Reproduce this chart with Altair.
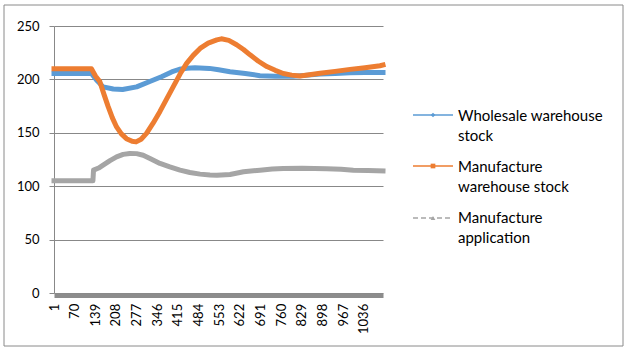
import altair as alt
import pandas as pd

# ---- data ----
x_ticks = [1, 70, 139, 208, 277, 346, 415, 484, 553, 622, 691, 760, 829, 898, 967, 1036]
y_ticks = [0, 50, 100, 150, 200, 250]

series_names = ["Wholesale warehouse stock", "Manufacture warehouse stock", "Manufacture application"]
legend_labels = ["Wholesale warehouse\nstock", "Manufacture\nwarehouse stock", "Manufacture\napplication"]
colors = ["#5B9BD5", "#ED7D31", "#A5A5A5"]
shapes = ["diamond", "square", "triangle-up"]

wh_t = [1, 126, 143, 165, 199, 230, 277, 321, 360, 394, 420, 445, 472, 520, 551, 589, 640, 689, 740, 800, 850, 890, 940, 990, 1040, 1100]
wh_v = [205.5, 205.5, 199.5, 193, 191, 190.5, 193, 198, 202.5, 207, 209.5, 210.5, 211, 210.3, 209, 207.2, 205.5, 203.5, 203, 203, 204, 205, 205.5, 206.3, 206.5, 206.5]

mw_t = [1, 126, 140, 154, 168, 182, 196, 210, 226, 243, 262, 275, 292, 310, 332, 355, 377, 399, 422, 444, 466, 489, 516, 545, 560, 585, 611, 634, 656, 684, 712, 740, 767, 795, 823, 860, 890, 940, 990, 1040, 1090, 1100]
mw_v = [210, 210, 203, 198, 186, 174.5, 164, 155.5, 149, 144.5, 142, 141.5, 144, 149.5, 159, 170, 181.5, 193, 205, 215, 222.5, 229, 234, 237, 238, 236.5, 232.5, 228, 223, 217, 212, 208.5, 205.5, 204, 203.2, 204.5, 205.7, 207.5, 209.4, 211, 212.8, 213.5]

ma_t = [1, 131, 133, 150, 165, 188, 210, 232, 254, 277, 299, 325, 355, 388, 422, 455, 489, 522, 545, 589, 634, 689, 730, 767, 830, 912, 960, 1001, 1050, 1100]
ma_v = [105, 105, 115, 117, 119.7, 124, 127.5, 129.8, 130.7, 130.5, 129, 125.5, 121.3, 118, 115, 112.8, 111.3, 110.5, 110.3, 111, 113.5, 115, 116, 116.6, 116.8, 116.3, 115.8, 115, 114.8, 114.4]

series_t = [wh_t, mw_t, ma_t]
series_v = [wh_v, mw_v, ma_v]

W, H = 329, 267
FONT = "Lato"
GRID = "#888888"

xscale = alt.Scale(domain=[1, 1100], nice=False, zero=False)
yscale = alt.Scale(domain=[0, 250], nice=False)

x_axis = alt.Axis(values=x_ticks, format="d", labelAngle=270, ticks=False, grid=False,
                  domainColor="#8c8c8c", domainWidth=4.6, offset=2.3,
                  labelPadding=8, labelFont=FONT, labelFontSize=13,
                  labelColor="#000000", title=None, labelOverlap=False)
y_axis = alt.Axis(values=y_ticks, format="d", grid=True, gridColor=GRID, gridWidth=1,
                  domainColor=GRID, tickColor=GRID, tickSize=5,
                  labelPadding=10, labelFont=FONT, labelFontSize=13,
                  labelColor="#000000", title=None)

layers = []
for i in range(3):
    df = pd.DataFrame({"t": series_t[i], "v": series_v[i], "series": series_names[i]})
    layers.append(
        alt.Chart(df).mark_line(strokeWidth=5, strokeCap="square", strokeJoin="round",
                                color=colors[i]).encode(
            x=alt.X("t:Q", scale=xscale, axis=x_axis),
            y=alt.Y("v:Q", scale=yscale, axis=y_axis),
        )
    )

one = pd.DataFrame({"a": [0]})

# outer border
border = alt.Chart(one).mark_rect(fillOpacity=0, stroke="#8a8a8a", strokeWidth=1).encode(
    x=alt.value(-50), x2=alt.value(569), y=alt.value(-21), y2=alt.value(320)
)
layers.append(border)

# custom legend
leg_line_y = [89, 140, 192]
leg_text_y = [90, 140.5, 192]
for i in range(3):
    rule_kw = dict(color=colors[i], strokeWidth=1.5)
    if i == 2:
        rule_kw["strokeDash"] = [5, 3]
    layers.append(alt.Chart(one).mark_rule(**rule_kw).encode(
        x=alt.value(359), x2=alt.value(399), y=alt.value(leg_line_y[i])))
    layers.append(alt.Chart(one).mark_point(shape=shapes[i], filled=True, size=22,
                                            color=colors[i], opacity=1).encode(
        x=alt.value(379), y=alt.value(leg_line_y[i])))
    layers.append(alt.Chart(one).mark_text(text=legend_labels[i], lineBreak="\n",
                                           align="left", baseline="middle",
                                           font=FONT, fontSize=15, lineHeight=20,
                                           color="#000000").encode(
        x=alt.value(404), y=alt.value(leg_text_y[i])))

chart = alt.layer(*layers).properties(
    width=W, height=H,
    padding={"left": 54, "top": 26, "right": 247, "bottom": 60},
    autosize=alt.AutoSizeParams(type="none"),
    background="white",
).configure_view(strokeWidth=0)

chart.save("out.html", embed_options={"renderer": "svg", "actions": False})
